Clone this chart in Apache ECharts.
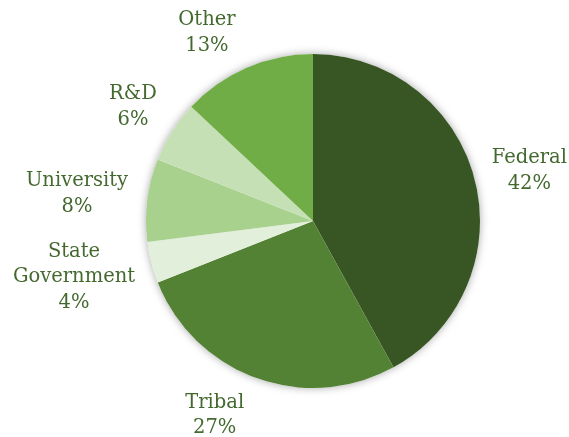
<!DOCTYPE html>
<html><head><meta charset="utf-8">
<script src="https://cdn.jsdelivr.net/npm/echarts@6/dist/echarts.min.js"></script>
<style>html,body{margin:0;padding:0;background:#fff}#c{width:569px;height:437px}</style>
</head><body><div id="c"></div>
<script>
const categories = ['Federal', 'Tribal', 'State\nGovernment', 'University', 'R&D', 'Other'];
const values = [42, 27, 4, 8, 6, 13];
const colors = ['#375623', '#548235', '#E2EFDA', '#A9D18E', '#C5E0B4', '#70AD47'];
// label placement: distance from centre and angular nudge (degrees)
const labelDist = [222, 218, 245.5, 237.5, 213, 216];
const labelNudge = [1.4, 7, 1.2, -0.7, -0.1, -6];

const CX = 313, CY = 221, R = 167;
const total = values.reduce((a, b) => a + b, 0);
const mids = [];
let acc = 0;
values.forEach(v => { mids.push((acc + v / 2) / total * 360); acc += v; });

const chart = echarts.init(document.getElementById('c'));
chart.setOption({
  animation: false,
  series: [
    {
      type: 'pie', center: [CX, CY], radius: R, silent: true, z: 1,
      label: { show: false }, labelLine: { show: false },
      data: [{ value: 1, itemStyle: { color: '#fff', shadowBlur: 8, shadowColor: 'rgba(0,0,0,0.35)' } }]
    },
    {
      type: 'pie', center: [CX, CY], radius: R, startAngle: 90, clockwise: true, z: 2,
      avoidLabelOverlap: false,
      data: categories.map((n, i) => ({ name: n, value: values[i], itemStyle: { color: colors[i] } })),
      label: {
        show: true, position: 'outside', overflow: 'none', width: 200,
        formatter: p => p.name + '\n' + p.value + '%',
        fontFamily: 'DejaVu Serif', fontSize: 19.5, lineHeight: 25.5, color: '#44692f', align: 'center'
      },
      labelLine: { show: false },
      labelLayout: function (p) {
        const i = p.dataIndex;
        const a = (mids[i] + labelNudge[i]) * Math.PI / 180;
        return {
          x: CX + labelDist[i] * Math.sin(a),
          y: CY - labelDist[i] * Math.cos(a),
          align: 'center', verticalAlign: 'middle', moveOverlap: null
        };
      }
    }
  ]
});
</script></body></html>
